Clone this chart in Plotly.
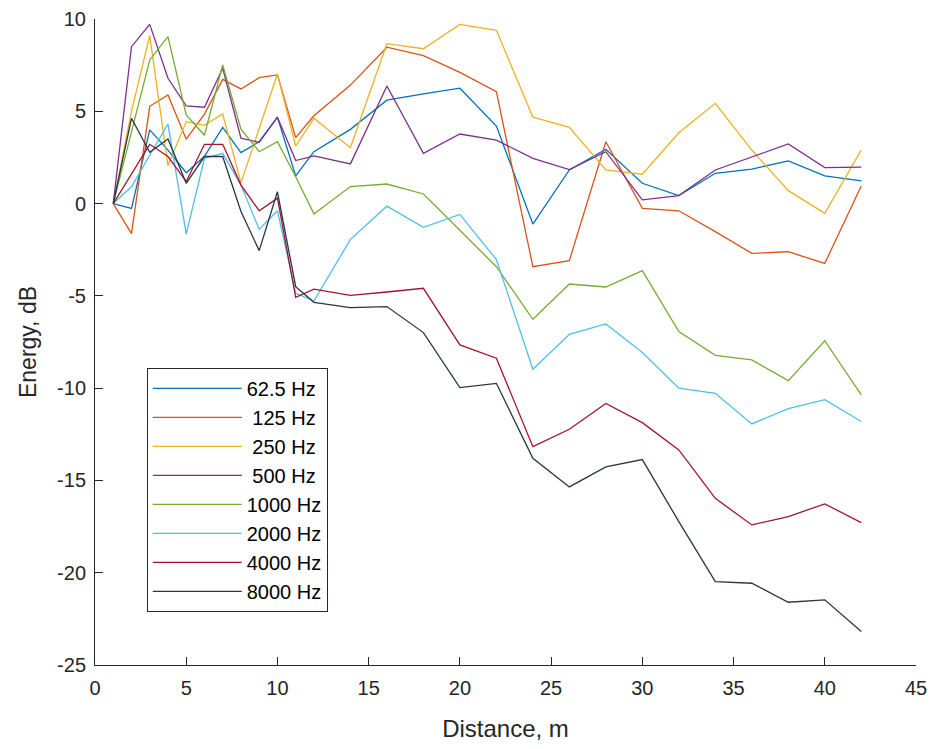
import plotly.graph_objects as go

distance = [1, 2, 3, 4, 5, 6, 7, 8, 9, 10, 11, 12, 14, 16, 18, 20, 22, 24, 26, 28, 30, 32, 34, 36, 38, 40, 42]

e_62_5 = [0, -0.26, 3.99, 2.9, 1.67, 2.56, 4.13, 2.76, 3.35, 4.68, 1.50, 2.81, 4.02, 5.60, 5.94, 6.25, 4.20, -1.11, 1.82, 2.94, 1.10, 0.43, 1.64, 1.87, 2.31, 1.50, 1.23]
e_125 = [0, -1.63, 5.27, 5.88, 3.49, 4.85, 6.73, 6.21, 6.82, 6.97, 3.57, 4.76, 6.42, 8.47, 8.01, 7.11, 6.06, -3.42, -3.09, 3.35, -0.26, -0.39, -1.52, -2.70, -2.61, -3.24, 0.95]
e_250 = [0, 5.0, 9.10, 2.06, 4.44, 4.24, 4.85, 1.12, 4.07, 7.02, 3.12, 4.62, 3.03, 8.66, 8.39, 9.71, 9.39, 4.68, 4.13, 1.82, 1.59, 3.84, 5.43, 2.90, 0.70, -0.53, 2.90]
e_500 = [0, 8.5, 9.71, 6.79, 5.29, 5.22, 7.33, 3.54, 3.32, 4.68, 2.33, 2.58, 2.15, 6.37, 2.72, 3.77, 3.44, 2.45, 1.84, 2.81, 0.20, 0.43, 1.82, 2.51, 3.23, 1.95, 1.97]
e_1000 = [0, 3.9, 7.78, 9.05, 4.80, 3.7, 7.51, 4.03, 2.81, 3.35, 1.45, -0.56, 0.92, 1.06, 0.52, -1.45, -3.42, -6.27, -4.36, -4.52, -3.63, -6.93, -8.22, -8.47, -9.59, -7.43, -10.37]
e_2000 = [0, 0.91, 2.62, 4.31, -1.65, 2.45, 2.72, 1.0, -1.40, -0.39, -4.86, -5.28, -1.94, -0.14, -1.29, -0.59, -3.03, -8.98, -7.08, -6.52, -8.07, -10.0, -10.28, -11.94, -11.11, -10.62, -11.81]
e_4000 = [0, 1.6, 3.21, 2.55, 1.19, 3.21, 3.21, 1.0, -0.39, 0.29, -5.08, -4.64, -4.97, -4.79, -4.59, -7.66, -8.38, -13.17, -12.23, -10.83, -11.87, -13.35, -15.97, -17.41, -16.96, -16.27, -17.29]
e_8000 = [0, 4.62, 2.78, 3.50, 1.10, 2.55, 2.55, -0.43, -2.55, 0.64, -4.50, -5.35, -5.64, -5.58, -6.99, -9.97, -9.74, -13.80, -15.35, -14.27, -13.87, -17.23, -20.48, -20.57, -21.60, -21.47, -23.19]

series_names = ["62.5 Hz", "\u00a0125 Hz", "\u00a0250 Hz", "\u00a0500 Hz", "1000 Hz", "2000 Hz", "4000 Hz", "8000 Hz"]
series_values = [e_62_5, e_125, e_250, e_500, e_1000, e_2000, e_4000, e_8000]
colors = ["#0072BD", "#D95319", "#EDB120", "#7E2F8E", "#77AC30", "#4DBEEE", "#A2142F", "#253746"]

x_ticks = [0, 5, 10, 15, 20, 25, 30, 35, 40, 45]
y_ticks = [-25, -20, -15, -10, -5, 0, 5, 10]
y_tick_labels = ["-25", "-20", "-15", "-10", "-5", "0", "5", "10"]

fig = go.Figure()
for i, (name, vals, col) in enumerate(zip(series_names, series_values, colors)):
    fig.add_trace(go.Scatter(
        x=distance, y=vals, mode="lines", name=name,
        line=dict(color=col, width=1.3),
    ))

axis_col = "#262626"
fig.update_layout(
    width=934, height=749,
    margin=dict(l=95, r=18, t=19, b=84, autoexpand=False),
    paper_bgcolor="white", plot_bgcolor="white",
    font=dict(family="Liberation Sans, Arial, sans-serif", size=20, color=axis_col),
    showlegend=True,
    legend=dict(
        x=0.063, y=0.46, xanchor="left", yanchor="top",
        bgcolor="white", bordercolor=axis_col, borderwidth=1,
        font=dict(size=20, color="black"),
        itemwidth=89,
    ),
    xaxis=dict(
        range=[0, 45], tickvals=x_ticks, ticks="inside", ticklen=8,
        tickcolor=axis_col, showline=True, linecolor=axis_col, linewidth=1,
        showgrid=False, zeroline=False, mirror=False, automargin=False,
        ticklabelstandoff=5,
        title=dict(text="Distance, m", font=dict(size=24), standoff=22),
    ),
    yaxis=dict(
        range=[-25, 10], tickvals=y_ticks, ticktext=y_tick_labels,
        ticks="inside", ticklen=8,
        tickcolor=axis_col, showline=True, linecolor=axis_col, linewidth=1,
        showgrid=False, zeroline=False, mirror=False, automargin=False,
        ticklabelstandoff=4,
        title=dict(text="Energy, dB", font=dict(size=23), standoff=14),
    ),
)

fig.write_html("out.html")
